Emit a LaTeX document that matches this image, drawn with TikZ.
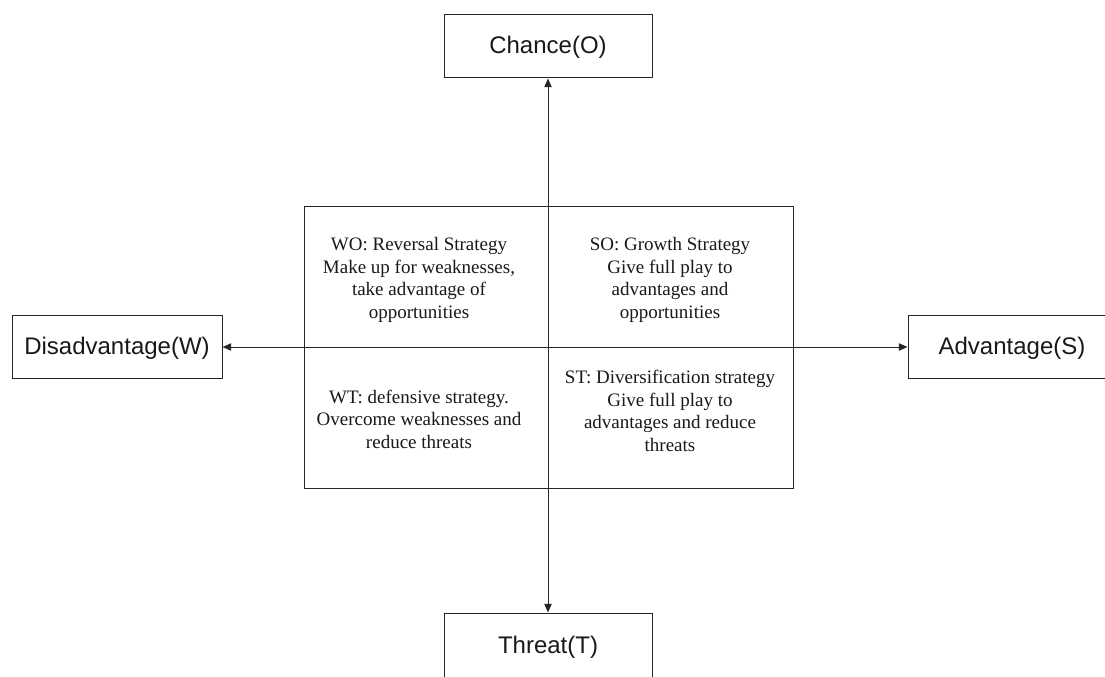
\documentclass[tikz,border=0pt]{standalone}
\usepackage{fontspec}
\setmainfont{Liberation Serif}
\newfontfamily\labelfont{Liberation Sans}
\usetikzlibrary{arrows.meta}
\begin{document}
\begin{tikzpicture}[x=0.75pt,y=-0.75pt,
  lbl/.style={draw=black!85, line width=0.75pt, minimum width=156pt, minimum height=47.25pt, inner sep=0pt, font=\labelfont\fontsize{18}{21}\selectfont, text=black!90, text height=13.5pt, text depth=3pt},
  quad/.style={align=center, inner sep=0pt, font=\fontsize{14.25}{16.9}\selectfont, text=black!90},
  grid/.style={draw=black!85, line width=0.75pt, minimum width=366.75pt, minimum height=210.75pt, inner sep=0pt},
  conn/.style={draw=black!85, line width=0.75pt, {Triangle[length=6.5pt,width=5.5pt]}-{Triangle[length=6.5pt,width=5.5pt]}}
]
\useasboundingbox (0,0) rectangle (1105,677);
\clip (0,0) rectangle (1105,677);
\fill[white] (0,0) rectangle (1105,677);
\node[grid] (swot) at (548.5,347.5) {};
\node[lbl] (chance) at (548,46.5) {Chance(O)};
\node[lbl, minimum width=157.5pt] (dis) at (117,347) {Disadvantage(W)};
\node[lbl] (adv) at (1012,347) {Advantage(S)};
\node[lbl, minimum height=49.5pt] (threat) at (548,646) {Threat(T)};
\draw[conn] (threat.north) -- (chance.south);
\draw[conn] (dis.east) -- (adv.west);
\node[quad] (wo) at (419,280) {WO: Reversal Strategy\\Make up for weaknesses,\\take advantage of\\opportunities};
\node[quad] (so) at (670,280) {SO: Growth Strategy\\Give full play to\\advantages and\\opportunities};
\node[quad] (wt) at (419,419) {WT: defensive strategy.\\Overcome weaknesses and\\reduce threats};
\node[quad] (st) at (670,411) {ST: Diversification strategy\\Give full play to\\advantages and reduce\\threats};
\end{tikzpicture}
\end{document}
